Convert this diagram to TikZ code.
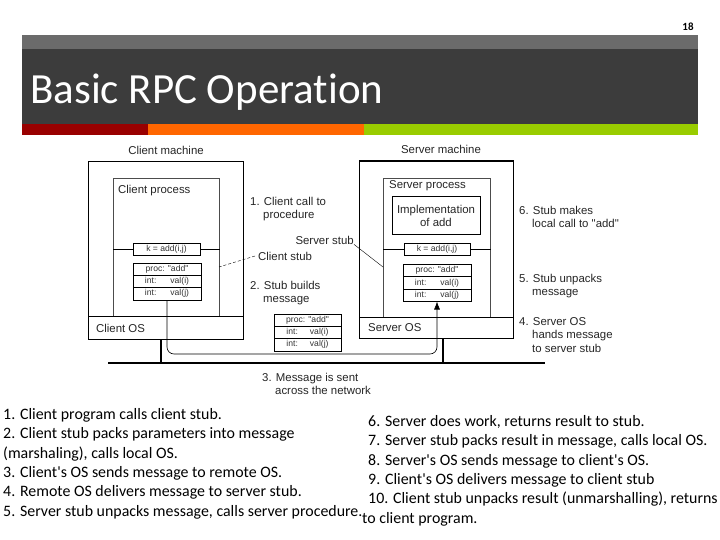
\documentclass[tikz,border=0pt]{standalone}
\usepackage{fontspec}
\setmainfont{Carlito}[Ligatures={NoCommon}]
\setsansfont{Liberation Sans}
\usetikzlibrary{arrows.meta,positioning}

\definecolor{barragris}{HTML}{6B6B6B}
\definecolor{barraoscura}{HTML}{3C3C3C}
\definecolor{rojo}{HTML}{990000}
\definecolor{naranja}{HTML}{FF6600}
\definecolor{verde}{HTML}{99CC00}

\tikzset{
  caja/.style={draw, line width=0.6pt, inner sep=0pt, anchor=north west},
  etiq/.style={font=\sffamily\fontsize{11.4}{13.5}\selectfont, text=black!85, inner sep=0pt, align=left},
  celda/.style={draw, line width=0.5pt, fill=white, minimum width=68pt, minimum height=12.3pt, inner sep=0pt, font=\sffamily\fontsize{8.6}{9}\selectfont, text=black!80},
  lista/.style={font=\fontsize{15.9}{19.4}\selectfont, anchor=north west, inner sep=0pt, align=left},
}

\begin{document}
\begin{tikzpicture}[x=1pt, y=-1pt]
\useasboundingbox[fill=white] (0,0) rectangle (720,540);

% Cabecera
\node[font=\fontsize{11}{11}\selectfont\bfseries] (pag) at (688,27) {18};
\fill[barragris] (22,35) rectangle (698,49);
\fill[barraoscura] (22,49) rectangle (698,124);
\fill[rojo] (22,124) rectangle (148,135);
\fill[naranja] (148,124) rectangle (364,135);
\fill[verde] (364,124) rectangle (698,135);
\node[font=\fontsize{43}{43}\selectfont, text=white, anchor=base west, inner sep=0pt] (titulo) at (30,104) {Basic RPC Operation};

% Maquina cliente
\node[caja, minimum width=155pt, minimum height=178pt] (cmaq) at (88,161) {};
\node[etiq] (cmaqt) at (166,150) {Client machine};
\node[caja, draw=black!70, minimum width=106pt, minimum height=138pt] (cproc) at (113,178) {};
\node[etiq, anchor=west] (cproct) at (118,191) {Client process};
\node[caja, minimum width=155pt, minimum height=23pt] (cos) at (88,316) {};
\node[etiq, anchor=west] (cost) at (96,328) {Client OS};

% Maquina servidor
\node[caja, minimum width=154pt, minimum height=177pt] (smaq) at (359,161) {};
\draw[line width=1.6pt] (smaq.north west) -- (smaq.north east);
\node[etiq] (smaqt) at (441,149) {Server machine};
\node[caja, draw=black!70, minimum width=107pt, minimum height=139pt] (sproc) at (383,178) {};
\node[etiq, anchor=west] (sproct) at (389,186) {Server process};
\node[caja, minimum width=88pt, minimum height=38pt] (impl) at (392,196) {};
\node[etiq, align=center] (implt) at (436,216) {Implementation\\of add};
\node[caja, minimum width=154pt, minimum height=21pt] (sos) at (359,317) {};
\node[etiq, anchor=west] (sost) at (368,328) {Server OS};

% Stubs
\node[celda, minimum width=67pt] (ck) at (166.5,249) {k = add(i,j)};
\draw[line width=0.5pt] (cproc.west |- ck) -- (ck.west);
\draw[line width=0.5pt] (ck.east) -- (cproc.east |- ck);
\node[celda, minimum width=66pt] (sk) at (437,249) {k = add(i,j)};
\draw[line width=0.5pt] (sproc.west |- sk) -- (sk.west);
\draw[line width=0.5pt] (sk.east) -- (sproc.east |- sk);

% Mensajes
\node[celda] (cm1) at (167,269) {proc: \textquotedbl add\textquotedbl};
\node[celda] (cm2) at (167,281.3) {int:\hspace{14pt}val(i)};
\node[celda] (cm3) at (167,293.6) {int:\hspace{14pt}val(j)};
\node[celda, minimum width=67pt] (mm1) at (307.5,320) {proc: \textquotedbl add\textquotedbl};
\node[celda, minimum width=67pt] (mm2) at (307.5,332.3) {int:\hspace{12pt}val(i)};
\node[celda, minimum width=67pt] (mm3) at (307.5,344.6) {int:\hspace{12pt}val(j)};
\node[celda] (sm1) at (437,270.5) {proc: \textquotedbl add\textquotedbl};
\node[celda] (sm2) at (437,282.8) {int:\hspace{14pt}val(i)};
\node[celda] (sm3) at (437,295.1) {int:\hspace{14pt}val(j)};

% Red
\coordinate (redL) at (108,363);
\coordinate (redR) at (545,363);
\coordinate (ruta) at (300,354);
\draw[line width=2.2pt] (redL) -- (redR);
\draw[line width=1.2pt] (cos.south -| 161,0) -- (redL -| 161,0);
\draw[line width=1.2pt] (sos.south -| 443,0) -- (redR -| 443,0);
\draw[-{Latex[length=8pt,width=6pt]}, line width=0.6pt, rounded corners=7pt] (cm3.south) |- (ruta) -| (sm3.south);

% Etiquetas
\node[etiq, anchor=north west] (e1) at (250,197) {1. Client call to\\\hspace*{13pt}procedure};
\node[etiq, anchor=east] (sstub) at (354,240) {Server stub};
\node[etiq, anchor=west] (cstub) at (258,256) {Client stub};
\node[etiq, anchor=north west] (e2) at (250,281) {2. Stub builds\\\hspace*{13pt}message};
\node[etiq, anchor=north west] (e3) at (262,373) {3. Message is sent\\\hspace*{13pt}across the network};
\node[etiq, anchor=north west] (e6) at (519,206) {6. Stub makes\\\hspace*{13pt}local call to \textquotedbl add\textquotedbl};
\node[etiq, anchor=north west] (e5) at (519,274) {5. Stub unpacks\\\hspace*{13pt}message};
\node[etiq, anchor=north west] (e4) at (519,317) {4. Server OS\\\hspace*{13pt}hands message\\\hspace*{13pt}to server stub};
\coordinate (cstubpt) at (219,267);
\coordinate (sstubpt) at (383,267);
\draw[line width=0.4pt, dashed, dash pattern=on 3pt off 2pt] ([xshift=-3pt]cstub.west) -- (cstubpt);
\draw[line width=0.4pt] (sstub.south east) -- (sstubpt);

% Pasos
\node[lista] (izq) at (3,408) {1. Client program calls client stub.\\2. Client stub packs parameters into message\\(marshaling), calls local OS.\\3. Client\textquotesingle s OS sends message to remote OS.\\4. Remote OS delivers message to server stub.\\5. Server stub unpacks message, calls server procedure.};
\node[lista] (der) at (368,415) {6. Server does work, returns result to stub.\\7. Server stub packs result in message, calls local OS.\\8. Server\textquotesingle s OS sends message to client\textquotesingle s OS.\\9. Client\textquotesingle s OS delivers message to client stub\\10. Client stub unpacks result (unmarshalling), returns\\\hspace*{-6pt}to client program.};

\end{tikzpicture}
\end{document}
